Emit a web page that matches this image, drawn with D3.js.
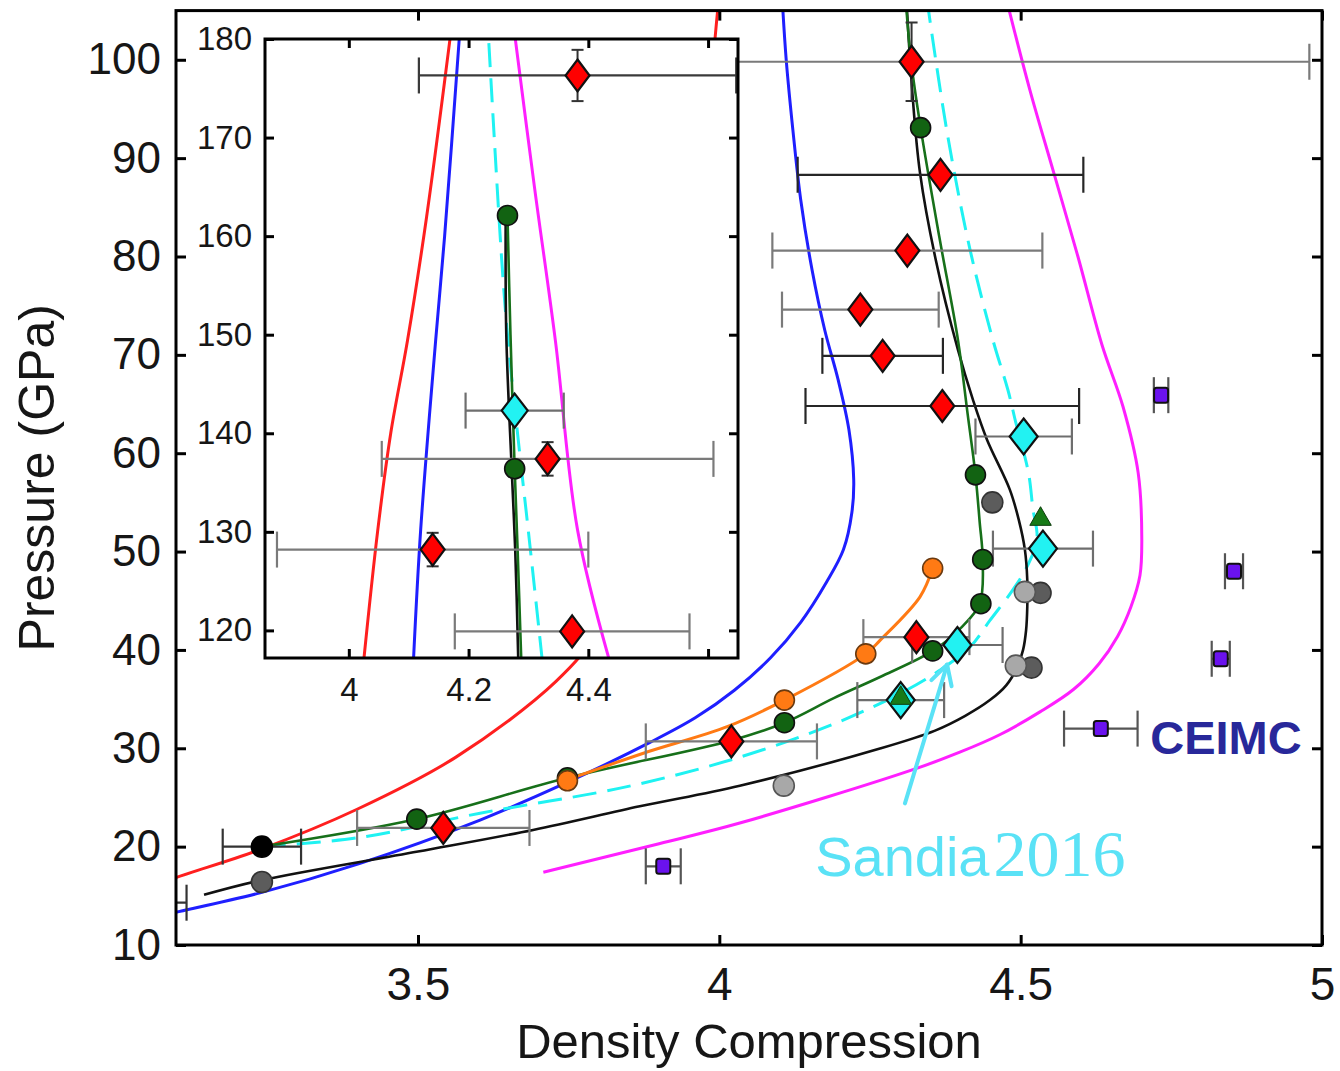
<!DOCTYPE html>
<html>
<head>
<meta charset="utf-8">
<script src="https://cdn.jsdelivr.net/npm/d3@7"></script>
<style>
  body { margin: 0; background: #fff; }
  svg { display: block; }
</style>
</head>
<body>
<svg id="chart" width="1340" height="1071"></svg>
<script>
// ---------- tick values and labels ----------
const pressureTicks = [10, 20, 30, 40, 50, 60, 70, 80, 90, 100];
const compressionTicks = [3.5, 4, 4.5, 5];
const insetPressureTicks = [120, 130, 140, 150, 160, 170, 180];
const insetCompressionTicks = [4, 4.2, 4.4, 4.6];
const insetCompressionLabels = ["4", "4.2", "4.4", ""];

// ---------- model Hugoniots, [density compression, pressure GPa] ----------
const hugRed = [[3.06,15.9],[3.096,16.8],[3.238,19.7],[3.399,23.8],[3.563,29.1],[3.729,36.8],[3.80,42],[3.87,52],[3.92,62],[3.955,75],[3.978,88],[3.99,100],[3.998,105.5]];
const hugBlue = [[3.06,12.8],[3.096,13.3],[3.238,15.3],[3.404,18.3],[3.603,22.7],[3.75,26.6],[3.885,30.6],[3.96,33.1],[4.025,35.9],[4.085,39.2],[4.135,42.8],[4.178,46.9],[4.206,50.2],[4.22,54],[4.223,57.3],[4.215,62.4],[4.197,67.5],[4.175,72.5],[4.154,78.6],[4.135,85.8],[4.122,92.9],[4.111,100],[4.105,105.5]];
const hugMagenta = [[3.708,17.4],[3.90,20.3],[4.034,22.4],[4.32,27.8],[4.399,29.6],[4.466,31.4],[4.532,33.7],[4.588,36.0],[4.630,38.6],[4.661,41.4],[4.683,44.4],[4.698,47.6],[4.701,51.2],[4.695,58],[4.670,64.7],[4.635,71],[4.595,80],[4.555,88.5],[4.515,97],[4.479,105.5]];
const hugCyan = [[3.241,20.0],[3.40,20.9],[3.603,23.4],[3.847,26.1],[4.034,29.1],[4.195,32.6],[4.301,35.6],[4.365,37.9],[4.416,40.3],[4.449,43.0],[4.487,46.1],[4.51,48.4],[4.527,51.2],[4.52,54.5],[4.513,58],[4.492,63.1],[4.479,66.4],[4.454,71.5],[4.416,80.7],[4.378,92.6],[4.346,105.5]];
const hugBlack = [[3.145,15.1],[3.241,16.6],[3.5,19.5],[3.691,21.7],[3.868,24.1],[4.034,26.2],[4.268,30.0],[4.358,31.8],[4.408,33.3],[4.449,34.9],[4.476,36.4],[4.494,38.2],[4.504,40.0],[4.509,42.0],[4.511,44.4],[4.511,47.1],[4.507,50.2],[4.497,53.2],[4.482,56.3],[4.444,61.4],[4.421,65.4],[4.396,70.5],[4.359,79.7],[4.333,88.5],[4.320,96.9],[4.311,105.5]];
const hugGreen = [[3.241,20.0],[3.498,22.8],[3.748,27.0],[4.02,30.8],[4.108,32.6],[4.19,35.1],[4.272,37.4],[4.354,39.9],[4.40,42.2],[4.432,44.7],[4.437,49.2],[4.432,53],[4.425,57.8],[4.412,64],[4.396,71.5],[4.365,82],[4.334,93.1],[4.318,100],[4.31,105.5]];
const hugOrange = [[3.748,26.8],[3.874,29.5],[4.013,32.2],[4.108,34.9],[4.243,39.6],[4.267,41.0],[4.333,45.4],[4.354,48.3]];

// ---------- measured / simulated points, [compression, pressure, x-error, p-error] ----------
const redDiamonds = [[4.319,99.8,0.66,4.0],[4.367,88.3,0.237,0],[4.312,80.6,0.224,0],[4.234,74.6,0.13,0],[4.271,69.9,0.10,0],[4.370,64.8,0.227,0],[4.327,41.3,0.088,0],[4.020,30.7,0.142,0],[3.542,21.9,0.143,0]];
const redBarDark = [false, true, false, false, true, true, false, false, false];
const cyanDiamonds = [[4.505,61.7,0.08],[4.537,50.3,0.083],[4.395,40.5,0.075],[4.301,34.9,0.072]];
const greenTriangles = [[4.533,53.4],[4.301,35.2]];
const ceimcSquares = [[4.733,65.9,0.012],[4.854,48.0,0.015],[4.832,39.1,0.015],[4.633,32.0,0.061],[3.907,18.0,0.029]];
const lightGrayCircles = [[4.107,26.2],[4.492,38.4],[4.507,45.9]];
const darkGrayCircles = [[3.241,16.4],[4.518,38.2],[4.533,45.8],[4.453,55.0]];
const greenCircles = [[3.498,22.8],[3.748,27.0],[4.108,32.6],[4.354,39.9],[4.434,44.7],[4.437,49.2],[4.425,57.8],[4.334,93.1]];
const orangeCircles = [[3.748,26.7],[4.108,34.9],[4.243,39.6],[4.354,48.3]];
const blackDots = [[3.241,20.0,0.065],[3.05,14.3,0.066]];

// ---------- high-pressure inset ----------
const insetRed = [[4.025,117],[4.048,130],[4.07,140],[4.098,149.4],[4.13,162],[4.17,180.5]];
const insetBlue = [[4.108,117],[4.12,130.2],[4.145,149.4],[4.16,160],[4.185,180.5]];
const insetMagenta = [[4.435,117],[4.382,130.2],[4.345,149.4],[4.31,165],[4.277,180.5]];
const insetCyan = [[4.323,117],[4.30,130],[4.283,139.3],[4.265,150],[4.255,157.9],[4.233,180.5]];
const insetBlack = [[4.283,117],[4.278,128],[4.272,136.4],[4.263,150],[4.262,162.1]];
const insetGreen = [[4.288,117],[4.282,128],[4.277,136.4],[4.270,150],[4.265,162.1]];
const insetRedDiamonds = [[4.382,176.3,0.265,2.6],[4.332,137.4,0.277,1.7],[4.14,128.2,0.26,1.7],[4.373,119.9,0.196,0]];
const insetCyanDiamonds = [[4.277,142.3,0.082]];
const insetGreenCircles = [[4.265,162.1],[4.277,136.4]];

// ---------- annotation anchors (data units) ----------
const sandiaArrow = [[4.308,24.4],[4.378,38.5]];
const sandiaLabelAt = [4.159, 17.0];
const ceimcLabelAt = [4.715, 29.4];

// ---------- layout ----------
const svg = d3.select("#chart");
const FONT = "'Liberation Sans', Arial, Helvetica, sans-serif";

const x = d3.scaleLinear().domain([3.0985, 5]).range([176, 1322]);
const y = d3.scaleLinear().domain([10, 105]).range([945, 10.6]);
const xi = d3.scaleLinear().domain([3.86, 4.65]).range([265, 738]);
const yi = d3.scaleLinear().domain([117.2, 180]).range([658, 39]);

const defs = svg.append("defs");
function addClip(id, xs, ys) {
  defs.append("clipPath").attr("id", id).append("rect")
    .attr("x", xs.range()[0]).attr("y", ys.range()[1])
    .attr("width", xs.range()[1] - xs.range()[0])
    .attr("height", ys.range()[0] - ys.range()[1]);
}
addClip("clipMain", x, y);
addClip("clipInset", xi, yi);

function drawCurve(g, pts, xs, ys, color, width, dash) {
  const line = d3.line().x(d => xs(d[0])).y(d => ys(d[1])).curve(d3.curveCatmullRom.alpha(0.5));
  g.append("path").attr("d", line(pts)).attr("fill", "none")
    .attr("stroke", color).attr("stroke-width", width)
    .attr("stroke-linecap", "butt").attr("stroke-linejoin", "round")
    .attr("stroke-dasharray", dash || null);
}

function hBar(g, xs, ys, cx, cy, err, color, capH) {
  const x0 = xs(cx - err), x1 = xs(cx + err), yy = ys(cy);
  g.append("line").attr("x1", x0).attr("x2", x1).attr("y1", yy).attr("y2", yy)
    .attr("stroke", color).attr("stroke-width", 2.2);
  [x0, x1].forEach(xx => g.append("line").attr("x1", xx).attr("x2", xx)
    .attr("y1", yy - capH).attr("y2", yy + capH).attr("stroke", color).attr("stroke-width", 2.2));
}
function vBar(g, xs, ys, cx, cy, err, color) {
  const xx = xs(cx), y0 = ys(cy - err), y1 = ys(cy + err);
  g.append("line").attr("x1", xx).attr("x2", xx).attr("y1", y0).attr("y2", y1)
    .attr("stroke", color).attr("stroke-width", 2);
  [y0, y1].forEach(yy => g.append("line").attr("x1", xx - 6).attr("x2", xx + 6)
    .attr("y1", yy).attr("y2", yy).attr("stroke", color).attr("stroke-width", 2));
}
function diamond(g, cx, cy, hw, hh, fill) {
  g.append("path")
    .attr("d", `M${cx},${cy - hh}L${cx + hw},${cy}L${cx},${cy + hh}L${cx - hw},${cy}Z`)
    .attr("fill", fill).attr("stroke", "#111").attr("stroke-width", 2.2).attr("stroke-linejoin", "miter");
}
function dot(g, cx, cy, r, fill, stroke) {
  g.append("circle").attr("cx", cx).attr("cy", cy).attr("r", r)
    .attr("fill", fill).attr("stroke", stroke || "#222").attr("stroke-width", 1.6);
}

// ---------- main panel ----------
const mg = svg.append("g").attr("clip-path", "url(#clipMain)");
drawCurve(mg, hugRed, x, y, "#ff1f1f", 3);
drawCurve(mg, hugBlue, x, y, "#1f1fff", 3);
drawCurve(mg, hugMagenta, x, y, "#ff1fff", 3);
drawCurve(mg, hugCyan, x, y, "#1ff2f2", 3, "24,11");
drawCurve(mg, hugBlack, x, y, "#111", 2.6);
drawCurve(mg, hugGreen, x, y, "#17701a", 2.6);
drawCurve(mg, hugOrange, x, y, "#ff7a14", 3);

// error bars
redDiamonds.forEach((d, i) => {
  hBar(mg, x, y, d[0], d[1], d[2], redBarDark[i] ? "#262626" : "#7a7a7a", 18);
  if (d[3]) vBar(mg, x, y, d[0], d[1], d[3], "#333");
});
cyanDiamonds.forEach(d => hBar(mg, x, y, d[0], d[1], d[2], "#6e6e6e", 18));
ceimcSquares.forEach(d => hBar(mg, x, y, d[0], d[1], d[2], "#555", 18));
blackDots.forEach(d => hBar(mg, x, y, d[0], d[1], d[2], "#333", 18));

// markers
darkGrayCircles.forEach(d => dot(mg, x(d[0]), y(d[1]), 10.5, "#5c5c5c", "#333"));
lightGrayCircles.forEach(d => dot(mg, x(d[0]), y(d[1]), 10.5, "#a8a8a8", "#555"));
greenCircles.forEach(d => dot(mg, x(d[0]), y(d[1]), 10, "#126312", "#111"));
orangeCircles.forEach(d => dot(mg, x(d[0]), y(d[1]), 10, "#ff7a14", "#6a3a10"));
blackDots.forEach(d => dot(mg, x(d[0]), y(d[1]), 10.5, "#000", "#000"));
redDiamonds.forEach(d => diamond(mg, x(d[0]), y(d[1]), 12, 16, "#ff0000"));
cyanDiamonds.forEach(d => diamond(mg, x(d[0]), y(d[1]), 14, 18, "#22f2f2"));
greenTriangles.forEach(d => mg.append("path")
  .attr("d", d3.symbol(d3.symbolTriangle, 200)())
  .attr("transform", `translate(${x(d[0])},${y(d[1]) + 1})`)
  .attr("fill", "#177a17").attr("stroke", "#0d3d0d").attr("stroke-width", 1));
ceimcSquares.forEach(d => mg.append("rect")
  .attr("x", x(d[0]) - 7).attr("y", y(d[1]) - 7.5).attr("width", 14).attr("height", 15).attr("rx", 2.5)
  .attr("fill", "#6a12ee").attr("stroke", "#111").attr("stroke-width", 2));

// ---------- inset panel ----------
svg.append("rect").attr("x", xi.range()[0]).attr("y", yi.range()[1])
  .attr("width", xi.range()[1] - xi.range()[0]).attr("height", yi.range()[0] - yi.range()[1])
  .attr("fill", "#fff");
const ig = svg.append("g").attr("clip-path", "url(#clipInset)");
drawCurve(ig, insetRed, xi, yi, "#ff1f1f", 3);
drawCurve(ig, insetBlue, xi, yi, "#1f1fff", 3);
drawCurve(ig, insetMagenta, xi, yi, "#ff1fff", 3);
drawCurve(ig, insetCyan, xi, yi, "#1ff2f2", 3, "24,11");
drawCurve(ig, insetBlack, xi, yi, "#111", 2.6);
drawCurve(ig, insetGreen, xi, yi, "#17701a", 2.6);
insetRedDiamonds.forEach((d, i) => {
  hBar(ig, xi, yi, d[0], d[1], d[2], i === 0 ? "#3a3a3a" : "#7a7a7a", 18);
  if (d[3]) vBar(ig, xi, yi, d[0], d[1], d[3], "#333");
});
insetCyanDiamonds.forEach(d => hBar(ig, xi, yi, d[0], d[1], d[2], "#6e6e6e", 18));
insetGreenCircles.forEach(d => dot(ig, xi(d[0]), yi(d[1]), 10, "#126312", "#111"));
insetRedDiamonds.forEach(d => diamond(ig, xi(d[0]), yi(d[1]), 12, 16, "#ff0000"));
insetCyanDiamonds.forEach(d => diamond(ig, xi(d[0]), yi(d[1]), 13, 17, "#22f2f2"));

// ---------- axes & frames ----------
function frame(xs, ys) {
  svg.append("rect").attr("x", xs.range()[0]).attr("y", ys.range()[1])
    .attr("width", xs.range()[1] - xs.range()[0]).attr("height", ys.range()[0] - ys.range()[1])
    .attr("fill", "none").attr("stroke", "#000").attr("stroke-width", 3);
}
function styleAxis(g, size) {
  g.select(".domain").remove();
  g.attr("font-family", FONT).attr("font-size", size);
  g.selectAll(".tick line").attr("stroke", "#000").attr("stroke-width", 3);
  g.selectAll(".tick text").attr("fill", "#161616");
}
function axes(xs, ys, xt, xfmt, yt, ySize, xSize, tick, padY, padX) {
  const [l, r] = xs.range(), [b, t] = ys.range();
  styleAxis(svg.append("g").attr("transform", `translate(${l},0)`)
    .call(d3.axisLeft(ys).tickValues(yt).tickSize(-tick).tickPadding(padY).tickFormat(d3.format("d"))), ySize);
  styleAxis(svg.append("g").attr("transform", `translate(${r},0)`)
    .call(d3.axisRight(ys).tickValues(yt).tickSize(-tick).tickFormat("")), ySize);
  styleAxis(svg.append("g").attr("transform", `translate(0,${b})`)
    .call(d3.axisBottom(xs).tickValues(xt).tickSize(-tick).tickPadding(padX).tickFormat(xfmt)), xSize);
  styleAxis(svg.append("g").attr("transform", `translate(0,${t})`)
    .call(d3.axisTop(xs).tickValues(xt).tickSize(-tick).tickFormat("")), xSize);
  frame(xs, ys);
}
axes(x, y, compressionTicks, d => String(d), pressureTicks, 44, 46, 10, 15, 22);
axes(xi, yi, insetCompressionTicks, (d, i) => insetCompressionLabels[i], insetPressureTicks, 33, 33, 9, 13, 20);

// axis titles
svg.append("text").attr("x", (x.range()[0] + x.range()[1]) / 2).attr("y", 1058)
  .attr("text-anchor", "middle").attr("font-family", FONT).attr("font-size", 49).attr("fill", "#161616")
  .text("Density Compression");
svg.append("text").attr("transform", `translate(54,${(y.range()[0] + y.range()[1]) / 2}) rotate(-90)`)
  .attr("text-anchor", "middle").attr("font-family", FONT).attr("font-size", 50).attr("fill", "#161616")
  .text("Pressure (GPa)");

// ---------- annotations ----------
const ANN = "#5ae2f6";
const [a0, a1] = sandiaArrow.map(d => [x(d[0]), y(d[1])]);
svg.append("line").attr("x1", a0[0]).attr("y1", a0[1]).attr("x2", a1[0]).attr("y2", a1[1])
  .attr("stroke", ANN).attr("stroke-width", 4).attr("stroke-linecap", "round");
{
  const dx = a0[0] - a1[0], dy = a0[1] - a1[1], len = Math.hypot(dx, dy);
  const ux = dx / len, uy = dy / len, arm = 22, ang = 0.5;
  [ang, -ang].forEach(a => {
    const rx = ux * Math.cos(a) - uy * Math.sin(a), ry = ux * Math.sin(a) + uy * Math.cos(a);
    svg.append("line").attr("x1", a1[0]).attr("y1", a1[1])
      .attr("x2", a1[0] + rx * arm).attr("y2", a1[1] + ry * arm)
      .attr("stroke", ANN).attr("stroke-width", 4).attr("stroke-linecap", "round");
  });
}
const sandia = svg.append("text").attr("x", x(sandiaLabelAt[0])).attr("y", y(sandiaLabelAt[1])).attr("fill", ANN);
sandia.append("tspan").attr("font-family", FONT).attr("font-size", 56).text("Sandia");
sandia.append("tspan").attr("dx", 4).attr("font-family", "'Liberation Serif', 'Times New Roman', serif")
  .attr("font-size", 66).text("2016");

svg.append("text").attr("x", x(ceimcLabelAt[0])).attr("y", y(ceimcLabelAt[1]))
  .attr("font-family", FONT).attr("font-weight", "bold").attr("font-size", 47).attr("fill", "#28289a")
  .text("CEIMC");
</script>
</body>
</html>
